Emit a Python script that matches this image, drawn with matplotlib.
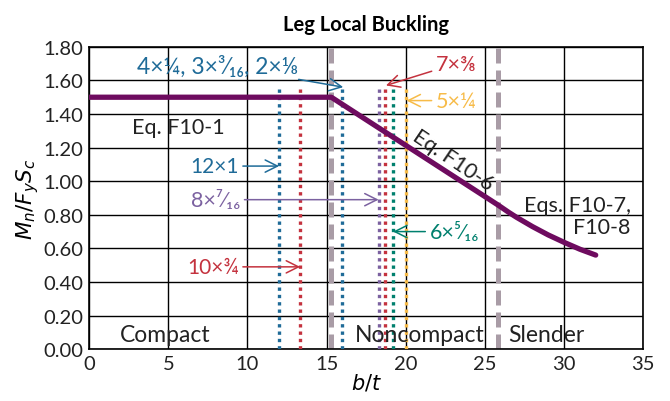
import matplotlib
matplotlib.use('Agg')
import numpy as np
import matplotlib.pyplot as plt

plt.rcParams['font.family'] = ['Lato', 'DejaVu Sans']

#--- data ---#
curve_bt = [0, 15.3, 25.8, 26.5, 27, 28, 29, 30, 31, 32]
curve_m = [1.50, 1.50, 0.86, 0.815, 0.785, 0.73, 0.68, 0.636, 0.595, 0.56]

limits_bt = [15.3, 25.8]          # lambda_p, lambda_r
shape_bt = [12.0, 13.33, 16.0, 18.29, 18.67, 19.2, 20.0]
shape_top = 1.57
shape_col = ['#1f6b98', '#c4323e', '#1f6b98', '#7b61a0', '#c4323e', '#00806e', '#f7bb48']

# label, text pos (x, y), arrow tip (x, y), colour, font size
labels = [
    ('4×¼, 3×³⁄₁₆, 2×⅛', (13.2, 1.69), (16.05, 1.56), '#1f6b98', 16.5),
    ('12×1', (9.45, 1.09), (12.0, 1.09), '#1f6b98', 15),
    ('8×⁷⁄₁₆', (9.55, 0.89), (18.29, 0.89), '#7b61a0', 15.5),
    ('10×¾', (9.45, 0.49), (13.33, 0.49), '#c4323e', 15),
    ('7×⅜', (21.9, 1.70), (18.75, 1.57), '#c4323e', 15.5),
    ('5×¼', (21.9, 1.48), (20.05, 1.48), '#f7bb48', 15.5),
    ('6×⁵⁄₁₆', (21.5, 0.70), (19.2, 0.70), '#00806e', 15.5),
]

xticks = np.arange(0, 36, 5)
yticks = np.arange(0, 1.81, 0.2)

fig = plt.figure(figsize=(6.7, 4.02), dpi=100)
ax = fig.add_axes([0.133, 0.129, 0.827, 0.752])

ax.set_xlim(0, 35)
ax.set_ylim(0, 1.8)
ax.set_xticks(xticks)
ax.set_yticks(yticks)
ax.set_yticklabels(['%.2f' % v for v in yticks])
ax.tick_params(labelsize=14.5, length=0, pad=4, labelcolor='#222222')
ax.grid(True, color='black', linewidth=1.0)
ax.set_axisbelow(True)
for s in ax.spines.values():
    s.set_linewidth(1.2)

#--vertical limit lines--#
for b in limits_bt:
    ax.axvline(b, color='#a99ca6', linewidth=3.6, linestyle=(0, (3, 1.4)), zorder=2)

#--angle b/t lines--#
for b, c in zip(shape_bt, shape_col):
    ax.plot([b, b], [0, shape_top], color=c, linewidth=2.4, linestyle=(0, (1, 1.2)), zorder=3)

#--strength curve--#
ax.plot(curve_bt, curve_m, color='#6e0b5f', linewidth=3.8, solid_capstyle='round',
        solid_joinstyle='round', zorder=4)

#--labels with arrows--#
for txt, xy_t, xy_a, c, fs in labels:
    ha = 'right' if xy_t[0] < xy_a[0] else 'left'
    ax.annotate(txt, xy=xy_a, xytext=xy_t, color=c, fontsize=fs, ha=ha, va='center',
                arrowprops=dict(arrowstyle='->', color=c, lw=1.1, mutation_scale=22,
                                shrinkA=1, shrinkB=0), zorder=5)

tc = '#222222'
ax.text(2.7, 1.32, 'Eq. F10-1', fontsize=15.5, va='center', color=tc)
ax.text(23.0, 1.13, 'Eq. F10-6', fontsize=15.5, rotation=-34, ha='center', va='center',
        color=tc, rotation_mode='anchor')
ax.text(27.5, 0.86, 'Eqs. F10-7,', fontsize=15.5, va='center', color=tc)
ax.text(30.55, 0.73, 'F10-8', fontsize=15.5, va='center', color=tc)
ax.text(4.8, 0.09, 'Compact', fontsize=16.5, ha='center', va='center', color=tc)
ax.text(20.9, 0.09, 'Noncompact', fontsize=16.5, ha='center', va='center', color=tc)
ax.text(28.9, 0.09, 'Slender', fontsize=16.5, ha='center', va='center', color=tc)

ax.set_xlabel('$b/t$', fontsize=15, labelpad=0)
ax.set_ylabel('$M_n/F_yS_c$', fontsize=15.5, labelpad=2)
ax.set_title('Leg Local Buckling', fontsize=14.5, fontweight='bold', pad=12)

fig.savefig('out.png', dpi=100)
